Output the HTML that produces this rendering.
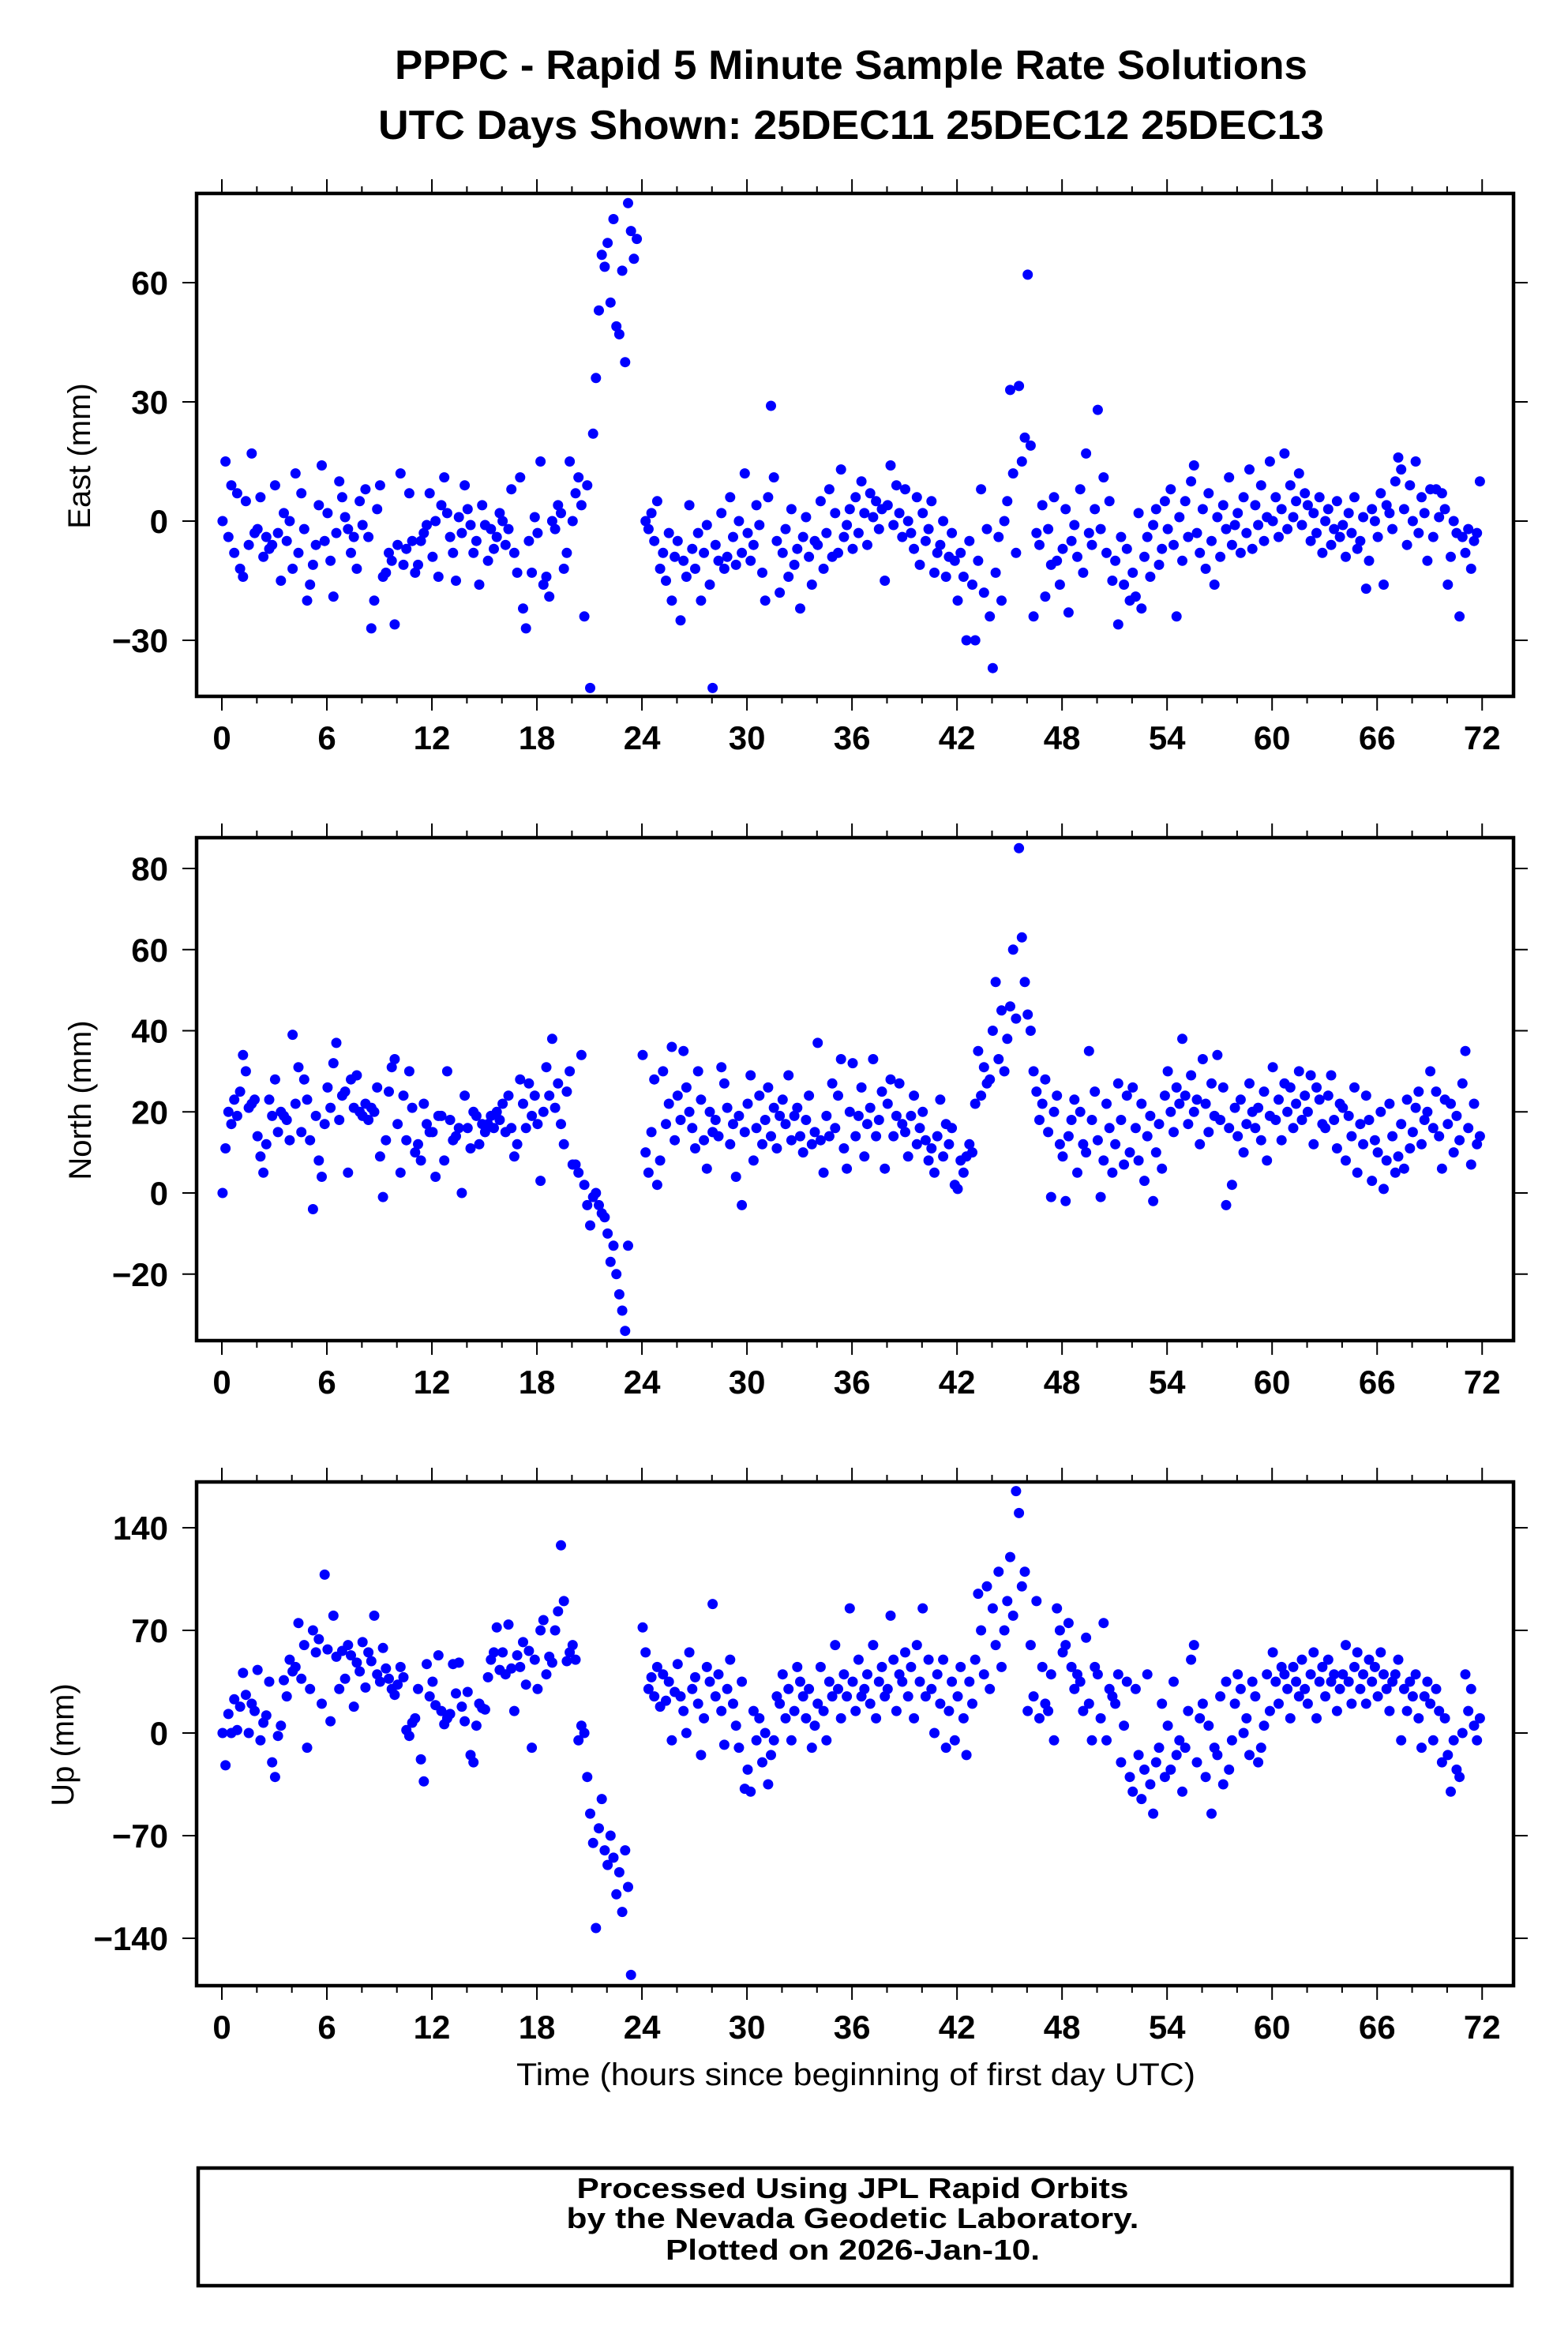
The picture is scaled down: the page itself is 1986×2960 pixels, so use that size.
<!DOCTYPE html>
<html><head><meta charset="utf-8"><title>PPPC Rapid 5 Minute Solutions</title>
<style>
html,body{margin:0;padding:0;background:#fff;}
svg{display:block;}
text{font-family:"Liberation Sans",Arial,sans-serif;fill:#000;}
</style></head>
<body>
<svg id="chart" xmlns="http://www.w3.org/2000/svg" width="1986" height="2960" viewBox="0 0 1986 2960">
<rect x="0" y="0" width="1986" height="2960" fill="#fff"/>
<text x="1078" y="100" font-size="52" font-weight="bold" text-anchor="middle" textLength="1156" lengthAdjust="spacingAndGlyphs">PPPC - Rapid 5 Minute Sample Rate Solutions</text>
<text x="1078" y="176" font-size="52" font-weight="bold" text-anchor="middle" textLength="1198" lengthAdjust="spacingAndGlyphs">UTC Days Shown:  25DEC11 25DEC12 25DEC13</text>
<g id="plots"></g>
<text x="1084" y="2641" font-size="40" text-anchor="middle" textLength="860" lengthAdjust="spacingAndGlyphs">Time (hours since beginning of first day UTC)</text>
<rect x="251" y="2746" width="1664" height="149" fill="none" stroke="#000" stroke-width="4.5"/>
<text x="1080" y="2784" font-size="36" font-weight="bold" text-anchor="middle" textLength="699" lengthAdjust="spacingAndGlyphs">Processed Using JPL Rapid Orbits</text>
<text x="1080" y="2822" font-size="36" font-weight="bold" text-anchor="middle" textLength="725" lengthAdjust="spacingAndGlyphs">by the Nevada Geodetic Laboratory.</text>
<text x="1080" y="2862" font-size="36" font-weight="bold" text-anchor="middle" textLength="474" lengthAdjust="spacingAndGlyphs">Plotted on 2026-Jan-10.</text>
</svg>
<script>
// Values: one per 10 minutes, 6 per hour, hours 0..71 (null = no solution)
const xTicks = [0,6,12,18,24,30,36,42,48,54,60,66,72];
const eastTicks = [60,30,0,-30];
const northTicks = [80,60,40,20,0,-20];
const upTicks = [140,70,0,-70,-140];
const eastValues = [
0,15,-4,9,-8,7, -12,-14,5,-6,17,-3, -2,6,-9,-4,-7,-6, 9,-3,-15,2,-5,0,
-12,12,-8,7,-2,-20, -16,-11,-6,4,14,-5, 2,-10,-19,-3,10,6, 1,-2,-8,-4,-12,5,
-1,8,-4,-27,-20,3, 9,-14,-13,-8,-10,-26, -6,12,-11,-7,7,-5, -13,-11,-5,-3,-1,7,
-9,0,-14,4,11,2, -4,-8,-15,1,-3,9, 3,-1,-8,-5,-16,4, -1,-10,-2,-7,-4,2,
0,-6,-2,8,-8,-13, 11,-22,-27,-5,-13,1, -3,15,-16,-14,-19,0, -2,4,2,-12,-8,15,
0,7,11,4,-24,9, -42,22,36,53,67,64, 70,55,76,49,47,63, 40,80,73,66,71,null,
null,0,-2,2,-5,5, -12,-8,-15,-3,-20,-9, -5,-25,-10,-14,4,-7, -12,-3,-20,-8,-1,-16,
-42,-6,-10,2,-12,-9, 6,-4,-11,0,-8,12, -3,-10,-6,4,-1,-13, -20,6,29,11,-5,-18,
-8,-2,-14,3,-11,-7, -22,-4,1,-9,-16,-5, -6,5,-12,-3,8,-9, 2,-8,13,-4,-1,3,
-7,6,-3,10,2,-6, 7,1,5,-2,3,-15, 4,14,-1,9,2,-4, 8,0,-3,-7,6,-11,
2,-5,-2,5,-13,-8, -6,0,-14,-9,-3,-10, -20,-8,-14,-30,-5,-16, -30,-10,8,-18,-2,-24,
-37,-13,-4,-20,0,5, 33,12,-8,34,15,21, 62,19,-24,-3,-6,4, -19,-2,-11,6,-10,-16,
-7,3,-23,-5,-1,-9, 8,-13,17,-3,-6,3, 28,-2,11,-8,5,-15, -10,-26,-4,-16,-7,-20,
-13,-19,2,-22,-9,-4, -14,-1,3,-11,-7,5, -2,8,-6,-24,1,-10, 5,-4,10,14,-3,-8,
3,-12,7,-5,-16,1, -9,4,-2,11,-6,-1, 2,-8,6,-3,13,-7, 4,-1,9,-5,1,15,
0,6,-4,3,17,-2, 9,1,5,12,-1,7, 4,-5,2,-3,6,-8, 0,3,-6,-2,5,-4,
-1,-9,2,-3,6,-7, -5,1,-17,-10,3,0, -4,7,-16,4,2,-2, 10,16,13,3,-6,9,
0,15,-3,6,2,-10, 8,-4,8,1,7,3, -16,-9,0,-3,-24,-4, -8,-2,-12,-5,-3,10
];
const northValues = [
0,11,20,17,23,19, 25,34,30,21,22,23, 14,9,5,12,23,19, 28,15,20,19,18,13,
39,22,31,15,28,23, 13,-4,19,8,4,17, 26,21,32,37,18,24, 25,5,28,21,29,20,
19,22,18,21,20,26, 9,-1,13,25,31,33, 17,5,24,13,30,21, 10,12,8,22,17,15,
15,4,19,19,8,30, 18,13,14,16,0,24, 16,11,20,19,12,17, 15,17,19,16,20,18,
22,15,24,16,9,12, 28,22,16,27,19,24, 17,3,20,31,24,38, 21,27,17,12,25,30,
7,7,5,34,2,-3, -8,-1,0,-3,-5,-6, -10,-17,-13,-20,-25,-29, -34,-13,null,null,null,null,
34,10,5,15,28,2, 8,30,17,22,36,13, 24,18,35,26,20,16, 11,30,23,13,6,20,
15,18,14,31,27,21, 12,17,4,19,-3,15, 22,29,8,16,24,12, 18,26,14,21,11,19,
23,17,29,13,19,21, 14,10,18,24,12,15, 37,13,5,19,14,27, 16,24,33,11,6,20,
32,14,19,26,9,17, 21,33,14,18,25,6, 22,28,14,19,27,17, 15,9,19,24,12,16,
20,13,8,11,5,14, 23,9,17,12,16,2, 1,8,5,9,12,10, 22,35,24,31,27,28,
40,52,33,45,30,38, 46,60,43,85,63,52, 44,40,30,25,18,22, 28,15,-1,20,24,12,
9,-2,14,18,23,5, 20,12,10,35,18,25, 13,-1,8,22,16,5, 12,27,18,7,24,10,
26,16,8,22,3,14, 19,-2,10,17,6,24, 30,20,15,26,22,38, 24,17,29,20,23,12,
33,22,15,27,19,34, 18,26,-3,16,2,21, 14,23,10,17,27,20, 16,21,13,25,8,19,
31,18,23,13,27,20, 26,16,22,30,18,24, 20,29,12,26,23,17, 16,24,29,18,11,22,
21,8,19,14,26,5, 17,12,24,18,3,13, 10,20,1,8,22,14, 5,9,17,6,23,11,
15,21,25,12,18,20, 30,16,25,14,6,23, 17,22,10,19,13,27, 35,16,7,22,12,14
];
const upValues = [
0,-22,13,0,23,2, 18,41,26,0,20,15, 43,-5,7,12,35,-20, -30,-2,5,36,25,50,
42,45,75,37,60,-10, 30,70,55,64,20,108, 57,8,80,52,30,56, 37,60,53,18,48,42,
62,31,55,49,80,40, 35,58,44,37,30,26, 33,45,38,2,-2,7, 10,30,-18,-33,47,25,
35,19,53,15,6,10, 13,47,27,48,18,8, 28,-15,-20,5,20,17, 16,38,50,55,72,43,
55,40,74,44,15,53, 45,62,33,56,-10,50, 30,70,77,40,52,48, 70,83,128,90,49,55,
60,50,-5,5,0,-30, -55,-75,-133,-65,-45,-80, -90,-70,-85,-110,-95,-122, -80,-105,-165,null,null,null,
72,55,30,38,25,45, 18,40,22,35,-5,28, 47,25,15,0,55,30, 38,20,-15,10,45,35,
88,25,40,15,-8,30, 50,20,5,-10,35,-38, -25,-40,15,-5,10,-20, 0,-35,-15,-5,25,20,
40,10,30,-5,15,45, 35,25,10,30,-10,5, 20,45,15,-5,35,25, 60,30,10,40,25,85,
35,15,50,25,30,40, 20,60,10,35,45,25, 30,80,50,15,40,35, 55,25,45,10,60,35,
85,25,50,30,0,40, 20,50,-10,15,35,-5, 25,45,10,-15,35,20, 50,95,70,40,100,30,
85,60,110,45,70,90, 120,80,165,150,100,110, 15,60,25,90,10,45, 20,15,40,-5,85,70,
55,60,75,45,30,40, 35,15,65,20,-5,45, 40,10,75,-5,30,25, 20,40,-20,5,35,-30,
-40,30,-15,-45,-25,40, -35,-55,-20,-10,20,-30, 5,-25,35,-15,-5,-40, -10,15,50,60,-20,10,
20,-30,5,-55,-10,-15, 25,-35,35,-25,-5,20, 40,30,0,10,-15,35, 25,-20,-10,5,40,15,
55,35,20,45,40,30, 10,45,35,25,50,30, 20,40,55,10,35,45, 25,50,35,40,15,30,
40,60,35,20,45,55, 30,40,20,50,35,45, 25,55,40,30,15,35, 40,50,-5,30,15,35,
25,40,10,-10,25,35, 20,-5,30,15,-20,10, -15,-40,-5,-25,-30,0, 40,15,30,5,-5,10
];

const NS = 'http://www.w3.org/2000/svg';
const FL = 249, FR = 1917;
const X0 = 281, PXH = 22.17;
function xScale(t){ return X0 + t*PXH; }

function mk(tag, attrs, parent){
  const e = document.createElementNS(NS, tag);
  for (const k in attrs) e.setAttribute(k, attrs[k]);
  parent.appendChild(e);
  return e;
}

const panels = [
  {key:'east', title:'East (mm)', titleX:100, top:245, bottom:882, y0:660, ppu:151/30, ticks:eastTicks, values:eastValues},
  {key:'north', title:'North (mm)', titleX:101, top:1061, bottom:1698, y0:1511, ppu:411/80, ticks:northTicks, values:northValues},
  {key:'up', title:'Up (mm)', titleX:79, top:1877, bottom:2515, y0:2195, ppu:130/70, ticks:upTicks, values:upValues}
];

const root = document.getElementById('plots');
panels.forEach(p => {
  const yScale = v => p.y0 - v*p.ppu;
  const g = mk('g', {}, root);
  
  

  const pts = mk('g', {fill:'#0000ff'}, g);
  
  
  p.values.forEach((v, i) => {
    if (v === null) return;
    const c = mk('circle', {cx:xScale(i/6 + 0.04).toFixed(1), cy:yScale(v).toFixed(1), r:6.5}, pts);
    
    
  });

  const fr = mk('rect', {x:FL, y:p.top, width:FR-FL, height:p.bottom-p.top, fill:'none', stroke:'#000', 'stroke-width':4.5}, g);
  
  

  for (let h = 0; h <= 72; h += 2) {
    const x = xScale(h);
    const major = h % 6 === 0;
    const len = major ? 16 : 7;
    const t1 = mk('line', {x1:x, x2:x, y1:p.top-2, y2:p.top-2-len, stroke:'#000', 'stroke-width':2}, g);
    
    
    const t2 = mk('line', {x1:x, x2:x, y1:p.bottom+2, y2:p.bottom+2+len, stroke:'#000', 'stroke-width':2}, g);
    
    
  }
  xTicks.forEach(h => {
    const tl = mk('text', {x:xScale(h), y:p.bottom+67, 'font-size':42, 'font-weight':'bold', 'text-anchor':'middle'}, g);
    
    
    tl.textContent = h;
  });

  p.ticks.forEach(v => {
    const y = yScale(v);
    const l = mk('line', {x1:FL-2, x2:FL-18, y1:y, y2:y, stroke:'#000', 'stroke-width':2}, g);
    
    
    const r = mk('line', {x1:FR+2, x2:FR+18, y1:y, y2:y, stroke:'#000', 'stroke-width':2}, g);
    
    
    const tl = mk('text', {x:213, y:y+15, 'font-size':42, 'font-weight':'bold', 'text-anchor':'end'}, g);
    
    
    tl.textContent = v < 0 ? '\u2212' + Math.abs(v) : String(v);
  });

  const cy = (p.top + p.bottom)/2;
  const yt = mk('text', {x:p.titleX, y:cy, 'font-size':40, 'text-anchor':'middle', transform:'rotate(-90 ' + (p.titleX+14) + ' ' + cy + ')'}, g);
  
  
  yt.textContent = p.title;
});
</script>
</body></html>
